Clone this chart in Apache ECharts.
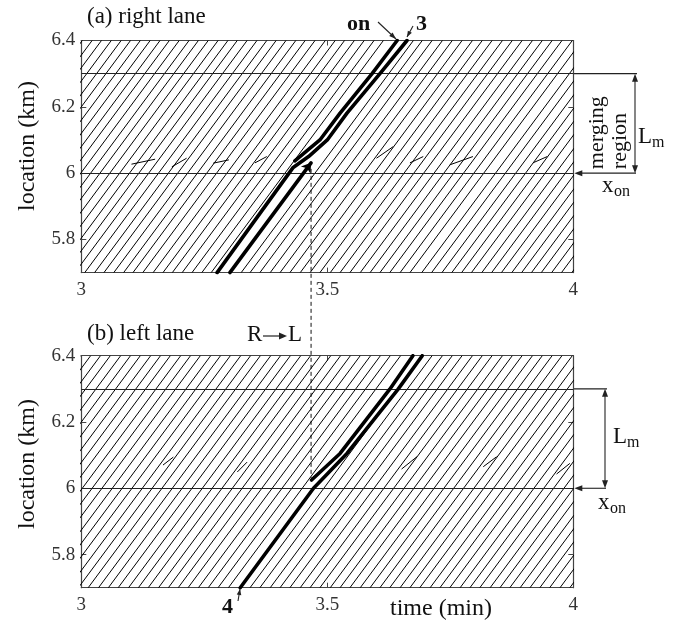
<!DOCTYPE html>
<html><head><meta charset="utf-8">
<script src="https://cdn.jsdelivr.net/npm/echarts@6/dist/echarts.min.js"></script>
<style>html,body{margin:0;padding:0;background:#fff}#c{width:679px;height:627px}</style>
</head><body><div id="c"></div>
<script>
// ---------- data ----------
const xTicks = [3, 3.5, 4];
const yTicks = [5.8, 6.0, 6.2, 6.4];
const tMin = 3, tMax = 4, locMin = 5.7, locMax = 6.4;
const xOn = 6.0;          // on-ramp location (km)
const xMergeEnd = 6.3;    // x_on + L_m (km)
const pace = 0.5;         // min per km of the free-flow trajectories (slope read off the hatch)
// time (min) at which each thin trajectory passes 5.7 km
const rightLaneT0 = [2.652,2.672,2.691,2.711,2.731,2.750,2.770,2.790,2.810,2.829,2.849,2.869,2.888,2.908,2.928,2.948,2.967,2.987,
  3.007,3.027,3.046,3.066,3.086,3.105,3.125,3.146,3.166,3.185,3.205,3.225,3.245,3.264,3.325,3.343,3.363,3.384,3.404,3.424,
  3.445,3.465,3.485,3.506,3.526,3.546,3.567,3.587,3.607,3.627,3.648,3.668,3.692,3.712,3.733,3.753,3.773,3.793,3.814,3.834,
  3.854,3.875,3.895,3.915,3.935,3.956,3.976,3.997];
const leftLaneT0 = [2.648,2.669,2.689,2.709,2.730,2.750,2.770,2.791,2.811,2.831,2.852,2.872,2.892,2.913,2.933,2.953,2.974,2.994,
  3.014,3.035,3.055,3.075,3.096,3.116,3.136,3.157,3.177,3.197,3.217,3.238,3.258,3.278,3.299,3.343,3.363,3.384,3.404,3.424,
  3.445,3.465,3.485,3.506,3.526,3.546,3.567,3.587,3.607,3.627,3.648,3.668,3.688,3.709,3.729,3.749,3.770,3.790,3.810,3.831,
  3.851,3.871,3.892,3.912,3.932,3.952,3.973,3.993];
// short trajectory pieces starting inside the merging region [t0, loc0, t1, loc1]
const rightStubs = [[3.102,6.027,3.150,6.042],[3.184,6.019,3.214,6.045],[3.268,6.030,3.300,6.040],[3.353,6.031,3.377,6.050],
  [3.600,6.045,3.634,6.080],[3.668,6.031,3.695,6.050],[3.749,6.025,3.796,6.050],[3.918,6.031,3.947,6.050]];
const leftStubs = [[3.166,6.070,3.187,6.094],[3.317,6.049,3.337,6.079],[3.651,6.058,3.682,6.095],[3.817,6.065,3.844,6.095],[3.966,6.043,3.993,6.075]];
// highlighted vehicles [time (min), location (km)]
const veh3 = [[3.276,5.7],[3.430,6.016],[3.462,6.050],[3.500,6.100],[3.540,6.181],[3.607,6.300],[3.662,6.4]];
const vehOn = [[3.434,6.037],[3.485,6.100],[3.526,6.181],[3.591,6.300],[3.642,6.4]];
const vehLCright = [[3.302,5.7],[3.467,6.031]];
const veh4 = [[3.323,5.7],[3.472,6.0],[3.540,6.105],[3.644,6.299],[3.693,6.4]];
const vehLCleft = [[3.468,6.025],[3.526,6.105],[3.627,6.299],[3.674,6.4]];
const laneChange = {t: 3.467, locRight: 6.031, locLeft: 6.025};

// ---------- chart ----------
const FONT = "'Liberation Serif','Times New Roman',serif";
const chart = echarts.init(document.getElementById('c'), null, {renderer: 'canvas'});
const grids = [
  {left: 81.3, top: 40.5, width: 492, height: 232.1},
  {left: 81.3, top: 355.7, width: 492, height: 232}
];
function xAx(g, top) {
  return {gridIndex: g, type: 'value', min: tMin, max: tMax, interval: 0.5, position: top ? 'top' : 'bottom',
    axisLine: {show: true, onZero: false, lineStyle: {color: '#444', width: 1.2}},
    axisTick: {show: true, inside: true, length: 5, lineStyle: {color: '#444'}, customValues: xTicks},
    axisLabel: {show: !top, customValues: xTicks, fontFamily: FONT, fontSize: 19, color: '#333', margin: 8},
    splitLine: {show: false}};
}
function yAx(g, right) {
  return {gridIndex: g, type: 'value', min: locMin, max: locMax, interval: 0.1, position: right ? 'right' : 'left',
    axisLine: {show: true, onZero: false, lineStyle: {color: '#444', width: 1.2}},
    axisTick: {show: true, inside: true, length: 5, lineStyle: {color: '#444'}, customValues: yTicks},
    axisLabel: {show: !right, customValues: yTicks, fontFamily: FONT, fontSize: 19, color: '#333', margin: 6},
    splitLine: {show: false}};
}
function hatch(t0s) {
  return t0s.map(t => ({coords: [[t, locMin], [t + pace * (locMax - locMin), locMax]]}));
}
function stubs(arr) { return arr.map(s => ({coords: [[s[0], s[1]], [s[2], s[3]]]})); }
function regionLines() {
  return [xOn, xMergeEnd].map(l => ({coords: [[tMin, l], [tMax, l]]}));
}
const thin = {color: '#000', width: 1, opacity: 1};
const thick = {color: '#000', width: 3.6, opacity: 1, cap: 'round', join: 'round'};
const series = [];
[0, 1].forEach(g => {
  const ax = {xAxisIndex: g * 2, yAxisIndex: g * 2};
  series.push({type: 'lines', coordinateSystem: 'cartesian2d', ...ax, clip: true, silent: true,
    lineStyle: thin, data: hatch(g === 0 ? rightLaneT0 : leftLaneT0).concat(stubs(g === 0 ? rightStubs : leftStubs))});
  series.push({type: 'lines', coordinateSystem: 'cartesian2d', ...ax, clip: true, silent: true,
    lineStyle: {color: '#222', width: 1.1, opacity: 1}, data: regionLines()});
});
series.push({type: 'lines', coordinateSystem: 'cartesian2d', xAxisIndex: 0, yAxisIndex: 0, polyline: true, clip: true, silent: true,
  lineStyle: thick, data: [{coords: veh3}, {coords: vehOn}]});
series.push({type: 'lines', coordinateSystem: 'cartesian2d', xAxisIndex: 0, yAxisIndex: 0, clip: false, silent: true,
  symbol: ['none', 'arrow'], symbolSize: 9, lineStyle: thick, data: [{coords: vehLCright}]});
series.push({type: 'lines', coordinateSystem: 'cartesian2d', xAxisIndex: 2, yAxisIndex: 2, polyline: true, clip: true, silent: true,
  lineStyle: thick, data: [{coords: veh4}, {coords: vehLCleft}]});

chart.setOption({
  animation: false,
  backgroundColor: '#fff',
  grid: grids,
  xAxis: [xAx(0, false), xAx(0, true), xAx(1, false), xAx(1, true)],
  yAxis: [yAx(0, false), yAx(0, true), yAx(1, false), yAx(1, true)],
  series: series
});

// ---------- annotations ----------
function P(g, t, l) { return chart.convertToPixel({gridIndex: g}, [t, l]); }
const G = [];
const ink = '#222';
function line(x1, y1, x2, y2, extra) {
  G.push({type: 'line', shape: {x1, y1, x2, y2}, style: Object.assign({stroke: ink, lineWidth: 1.1}, extra || {}), silent: true});
}
function head(xt, yt, xf, yf, len, w) {
  const dx = xt - xf, dy = yt - yf, d = Math.hypot(dx, dy), ux = dx / d, uy = dy / d;
  const bx = xt - ux * len, by = yt - uy * len;
  G.push({type: 'polygon', shape: {points: [[xt, yt], [bx - uy * w, by + ux * w], [bx + uy * w, by - ux * w]]},
    style: {fill: ink}, silent: true});
}
function arrow(x1, y1, x2, y2, len, w) { line(x1, y1, x2, y2); head(x2, y2, x1, y1, len || 7, w || 2.5); }
function text(x, y, s, size, opts) {
  G.push(Object.assign({type: 'text', x, y, silent: true,
    style: Object.assign({text: s, fontFamily: FONT, fontSize: size, fill: '#111', align: 'left', verticalAlign: 'middle'}, (opts && opts.style) || {})},
    opts && opts.el || {}));
}

// panel a right annotations
const a63 = P(0, tMax, xMergeEnd), a60 = P(0, tMax, xOn);
line(a63[0], a63[1], 637, a63[1]);
line(a60[0] + 6, a60[1], 636, a60[1]);
head(a60[0] + 1, a60[1], a60[0] + 10, a60[1], 8, 3);
line(635, a63[1] + 6, 635, a60[1] - 6);
head(635, a63[1], 635, a63[1] + 10, 8, 3);
head(635, a60[1], 635, a60[1] - 10, 8, 3);
text(597, a60[1] - 4, 'merging', 22, {el: {rotation: Math.PI / 2}});
text(620, a60[1] - 4, 'region', 22, {el: {rotation: Math.PI / 2}});
text(638, 137, 'L', 23);
text(652, 143, 'm', 16);
text(602, 186, 'x', 23);
text(614, 192, 'on', 16);

// panel b right annotations
const b63 = P(1, tMax, xMergeEnd), b60 = P(1, tMax, xOn);
line(b63[0], b63[1], 607, b63[1]);
line(b60[0] + 6, b60[1], 606, b60[1]);
head(b60[0] + 1, b60[1], b60[0] + 10, b60[1], 8, 3);
line(605, b63[1] + 6, 605, b60[1] - 6);
head(605, b63[1], 605, b63[1] + 10, 8, 3);
head(605, b60[1], 605, b60[1] - 10, 8, 3);
text(613, 437, 'L', 23);
text(627, 443, 'm', 16);
text(598, 503, 'x', 23);
text(610, 509, 'on', 16);

// lane-change dashed line
const dA = P(0, laneChange.t, laneChange.locRight), dB = P(1, laneChange.t, laneChange.locLeft);
line(dA[0], dA[1] + 6, dB[0], dB[1] - 2, {lineDash: [4, 3], lineWidth: 1, stroke: '#111'});

// titles and labels
text(87, 17, '(a) right lane', 23);
text(87, 334, '(b) left lane', 23);
text(247, 335, 'R', 23);
line(263, 336, 280, 336, {lineWidth: 1.2});
head(287, 336, 278, 336, 8, 3.5);
text(288, 335, 'L', 23);
text(28, 146, 'location (km)', 24, {el: {rotation: Math.PI / 2}, style: {align: 'center'}});
text(28, 464, 'location (km)', 24, {el: {rotation: Math.PI / 2}, style: {align: 'center'}});
text(441, 609, 'time (min)', 24, {style: {align: 'center'}});
// vehicle labels
text(347, 24, 'on', 22, {style: {fontWeight: 'bold'}});
arrow(378, 22, 396, 39, 7, 2.5);
text(416, 24, '3', 22, {style: {fontWeight: 'bold'}});
arrow(413, 26, 407, 37, 6, 2.3);
text(222, 607, '4', 22, {style: {fontWeight: 'bold'}});
arrow(238, 601, 240, 589, 6, 2.3);

chart.setOption({graphic: {elements: G}});
</script>
</body></html>
